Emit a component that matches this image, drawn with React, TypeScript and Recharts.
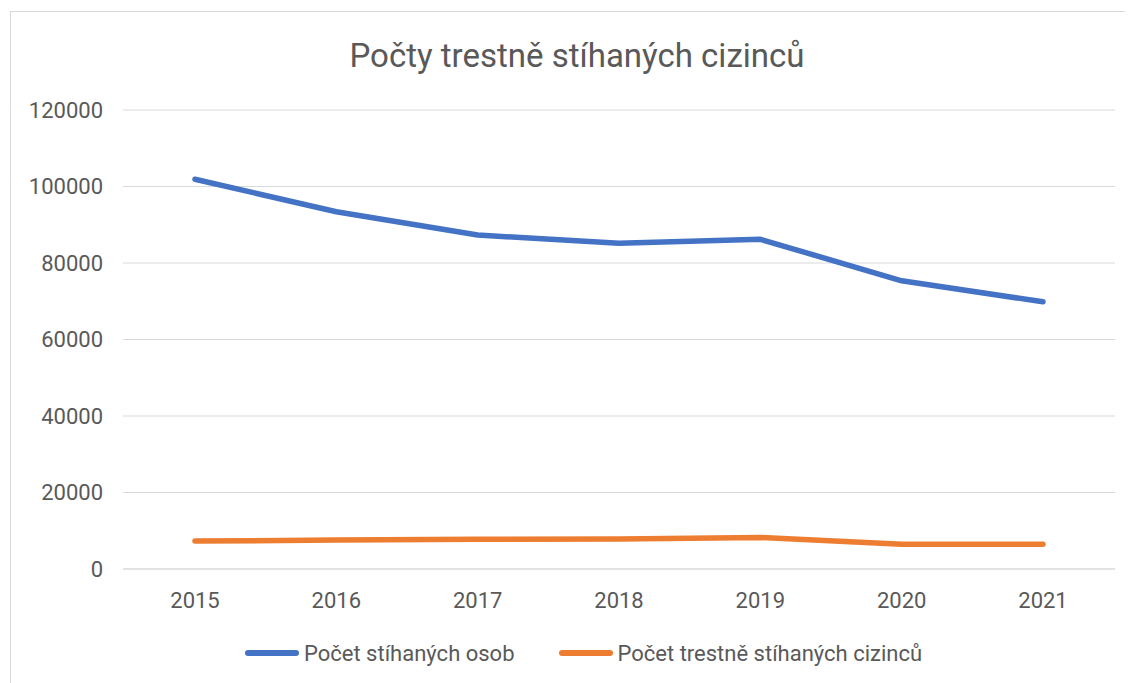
import React from 'react';
import { LineChart, Line, XAxis, YAxis, CartesianGrid, Legend } from 'recharts';

const years = ['2015', '2016', '2017', '2018', '2019', '2020', '2021'];
const prosecutedAll = [101900, 93400, 87300, 85150, 86200, 75350, 69850];
const prosecutedForeigners = [7300, 7550, 7750, 7850, 8250, 6450, 6500];
const yTicks = [0, 20000, 40000, 60000, 80000, 100000, 120000];
const seriesNames = ['Počet stíhaných osob', 'Počet trestně stíhaných cizinců'];
const seriesColors = ['#4472C4', '#ED7D31'];
const title = 'Počty trestně stíhaných cizinců';

const data = years.map((y, i) => ({
  year: y,
  all: prosecutedAll[i],
  foreigners: prosecutedForeigners[i],
}));

const FONT = 'Roboto, sans-serif';
const TEXT = '#595959';

const LegendContent = () => (
  <div style={{ display: 'flex', alignItems: 'center', height: 40, paddingLeft: 234, fontFamily: FONT, fontSize: 22, color: TEXT }}>
    {seriesNames.map((n, i) => (
      <div key={n} style={{ display: 'flex', alignItems: 'center', marginRight: 44 }}>
        <div style={{ width: 54, height: 6, borderRadius: 3, background: seriesColors[i], marginRight: 5 }} />
        <span style={{ whiteSpace: 'nowrap' }}>{n}</span>
      </div>
    ))}
  </div>
);

export default function App() {
  return (
    <div style={{ marginLeft: 2, marginTop: 3, width: 1122, height: 671, borderLeft: '1px solid #d9d9d9', borderTop: '1px solid #d9d9d9', position: 'relative', background: '#fff' }}>
      <div style={{ position: 'absolute', top: 27, left: 0, width: 1132, textAlign: 'center', fontFamily: FONT, fontSize: 33, lineHeight: 1, color: TEXT, whiteSpace: 'nowrap' }}>
        {title}
      </div>
      <LineChart width={1122} height={671} data={data} margin={{ top: 98, right: 18, left: 0, bottom: 10 }}>
        <CartesianGrid vertical={false} stroke="#d9d9d9" strokeWidth={1} />
        <XAxis
          dataKey="year"
          padding={{ left: 72, right: 72 }}
          axisLine={{ stroke: '#d9d9d9' }}
          tickLine={false}
          tickSize={0}
          tickMargin={23}
          height={64}
          tick={{ fill: TEXT, fontSize: 22, fontFamily: FONT }}
        />
        <YAxis
          domain={[0, 120000]}
          ticks={yTicks}
          width={112}
          axisLine={false}
          tickLine={false}
          tickSize={0}
          tickMargin={20}
          interval={0}
          tick={{ fill: TEXT, fontSize: 22, fontFamily: FONT }}
        />
        <Legend verticalAlign="bottom" height={40} content={<LegendContent />} />
        <Line dataKey="all" name={seriesNames[0]} stroke={seriesColors[0]} strokeWidth={5.5} strokeLinecap="round" strokeLinejoin="round" dot={false} activeDot={false} isAnimationActive={false} />
        <Line dataKey="foreigners" name={seriesNames[1]} stroke={seriesColors[1]} strokeWidth={5.5} strokeLinecap="round" strokeLinejoin="round" dot={false} activeDot={false} isAnimationActive={false} />
      </LineChart>
    </div>
  );
}
